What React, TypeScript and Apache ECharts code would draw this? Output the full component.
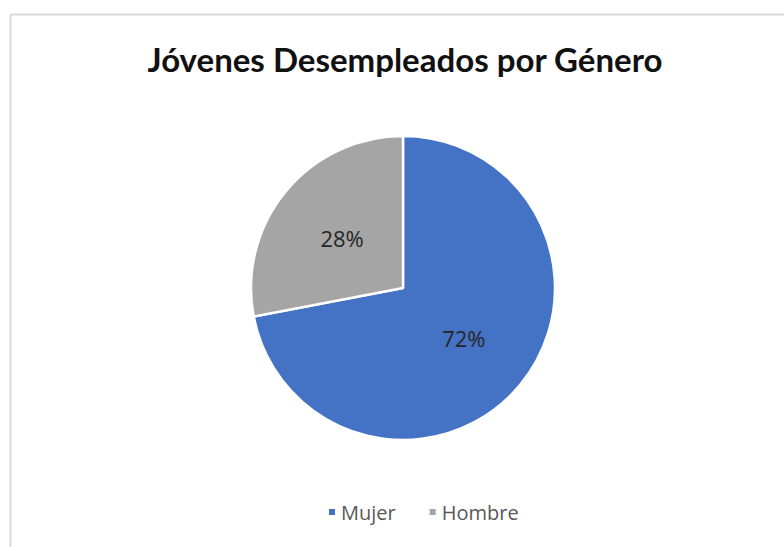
import React, { useEffect, useRef } from "react";
import * as echarts from "echarts";

const categories = ["Mujer", "Hombre"];
const values = [72, 28];
const colors = ["#4472C4", "#A5A5A5"];
const titleText = "Jóvenes Desempleados por Género";

export default function App() {
  const ref = useRef<HTMLDivElement>(null);
  useEffect(() => {
    document.body.style.margin = "0";
    const chart = echarts.init(ref.current!, null, { renderer: "svg" });
    chart.setOption({
      animation: false,
      backgroundColor: "#ffffff",
      title: {
        text: titleText,
        left: 400,
        textAlign: "center",
        top: 37,
        textStyle: { fontFamily: "Lato", fontWeight: "bold", fontSize: 33, color: "#111111" },
      },
      legend: {
        data: categories,
        left: 322,
        top: 497,
        icon: "rect",
        itemWidth: 8,
        itemHeight: 8,
        itemGap: 32,
        textStyle: { fontFamily: "Open Sans", fontSize: 20, color: "#595959" },
      },
      graphic: [
        { type: "line", shape: { x1: 10.5, y1: 14.5, x2: 784, y2: 14.5 }, style: { stroke: "#d9d9d9", lineWidth: 2 } },
        { type: "line", shape: { x1: 10.5, y1: 14.5, x2: 10.5, y2: 547 }, style: { stroke: "#d9d9d9", lineWidth: 2 } },
      ],
      series: [
        {
          type: "pie",
          center: [403, 288],
          radius: [0, 152],
          startAngle: 90,
          clockwise: true,
          label: {
            show: true,
            position: "inside",
            formatter: "{d}%",
            fontFamily: "Open Sans",
            fontSize: 22,
            color: "#262626",
          },
          labelLine: { show: false },
          itemStyle: { borderColor: "#ffffff", borderWidth: 2.5 },
          emphasis: { disabled: true },
          data: categories.map((c, i) => ({ name: c, value: values[i], itemStyle: { color: colors[i] } })),
        },
      ],
    });
    return () => chart.dispose();
  }, []);
  return <div ref={ref} style={{ width: 784, height: 547 }} />;
}
